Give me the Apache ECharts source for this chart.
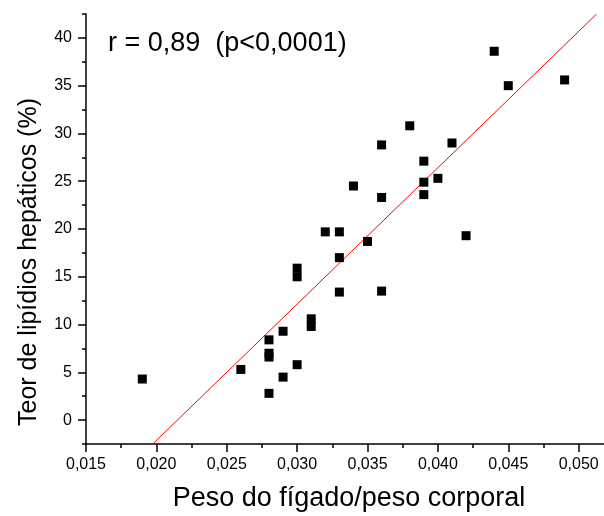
<!DOCTYPE html>
<html>
<head>
<meta charset="utf-8">
<script src="https://cdn.jsdelivr.net/npm/echarts@6/dist/echarts.min.js"></script>
<style>
html,body{margin:0;padding:0;background:#fff;}
#chart{width:604px;height:516px;}
</style>
</head>
<body>
<div id="chart"></div>
<script>
// Data
const liverRatio = [0.019, 0.026, 0.028, 0.028, 0.028, 0.028, 0.029, 0.029, 0.030, 0.030, 0.030,
  0.031, 0.031, 0.032, 0.033, 0.033, 0.033, 0.034, 0.035, 0.036, 0.036, 0.036,
  0.038, 0.039, 0.039, 0.039, 0.040, 0.041, 0.042, 0.044, 0.045, 0.049];
const lipidPct = [4.3, 5.3, 8.4, 7.0, 6.6, 2.8, 9.3, 4.5, 15.9, 15.0, 5.8,
  10.6, 9.8, 19.7, 19.7, 17.0, 13.4, 24.5, 18.7, 28.8, 23.3, 13.5,
  30.8, 27.1, 24.9, 23.6, 25.3, 29.0, 19.3, 38.6, 35.0, 35.6];
// Regression line parameters (y = slope * x + intercept)
const fitSlope = 1427;
const fitIntercept = -30.67;
// Axis ticks
const xTickLabels = [0.015, 0.020, 0.025, 0.030, 0.035, 0.040, 0.045, 0.050];
const xMinorTicks = [0.0175, 0.0225, 0.0275, 0.0325, 0.0375, 0.0425, 0.0475];
const yTickLabels = [0, 5, 10, 15, 20, 25, 30, 35, 40];
const yMinorTicks = [-2.5, 2.5, 7.5, 12.5, 17.5, 22.5, 27.5, 32.5, 37.5, 42.5];
const xMin = 0.015, xMax = 0.0518, yMin = -2.5, yMax = 42.5;
const annotation = 'r = 0,89  (p<0,0001)';
const xTitle = 'Peso do fígado/peso corporal';
const yTitle = 'Teor de lipídios hepáticos (%)';

const scatterData = liverRatio.map((x, i) => [x, lipidPct[i]]);
const lineX0 = (yMin - fitIntercept) / fitSlope;
const lineX1 = (yMax - fitIntercept) / fitSlope;
const lineData = [[lineX0, fitSlope * lineX0 + fitIntercept], [lineX1, fitSlope * lineX1 + fitIntercept]];

const FONT = '"Liberation Sans", Arial, sans-serif';
const chart = echarts.init(document.getElementById('chart'), null, {renderer: 'canvas'});
const axisLineStyle = {color: '#000', width: 1.5};
chart.setOption({
  animation: false,
  backgroundColor: '#fff',
  grid: {left: 86, top: 14, right: 0, bottom: 72, containLabel: false},
  xAxis: [{
    type: 'value', min: xMin, max: xMax,
    axisLine: {show: true, onZero: false, lineStyle: axisLineStyle},
    axisTick: {show: true, inside: false, length: 8, lineStyle: {color: '#000', width: 1.5}, customValues: xTickLabels},
    axisLabel: {show: true, margin: 13, color: '#000', fontSize: 16, fontFamily: FONT,
      customValues: xTickLabels,
      formatter: v => v.toFixed(3).replace('.', ',')},
    splitLine: {show: false}
  }, {
    type: 'value', min: xMin, max: xMax, position: 'bottom',
    axisLine: {show: false, onZero: false},
    axisTick: {show: true, inside: false, length: 4, lineStyle: {color: '#000', width: 1.5}, customValues: xMinorTicks},
    axisLabel: {show: false, customValues: xMinorTicks},
    splitLine: {show: false}
  }],
  yAxis: [{
    type: 'value', min: yMin, max: yMax,
    axisLine: {show: true, onZero: false, lineStyle: axisLineStyle},
    axisTick: {show: true, inside: false, length: 8, lineStyle: {color: '#000', width: 1.5}, customValues: yTickLabels},
    axisLabel: {show: true, margin: 14, color: '#000', fontSize: 16, fontFamily: FONT,
      customValues: yTickLabels, formatter: v => String(v)},
    splitLine: {show: false}
  }, {
    type: 'value', min: yMin, max: yMax, position: 'left',
    axisLine: {show: false, onZero: false},
    axisTick: {show: true, inside: false, length: 4, lineStyle: {color: '#000', width: 1.5}, customValues: yMinorTicks},
    axisLabel: {show: false, customValues: yMinorTicks},
    splitLine: {show: false}
  }],
  series: [{
    type: 'line', xAxisIndex: 0, yAxisIndex: 0,
    data: lineData, showSymbol: false, symbol: 'none', clip: true,
    lineStyle: {color: '#ff0000', width: 1}, z: 2
  }, {
    type: 'scatter', xAxisIndex: 0, yAxisIndex: 0,
    data: scatterData, symbol: 'rect', symbolSize: 9,
    itemStyle: {color: '#000', opacity: 1}, z: 3
  }],
  graphic: [{
    type: 'text', x: 108, y: 44,
    style: {text: annotation, font: '27px ' + FONT, fill: '#000', verticalAlign: 'middle'}
  }, {
    type: 'text', x: 349, y: 499,
    style: {text: xTitle, font: '27px ' + FONT, fill: '#000', align: 'center', verticalAlign: 'middle'}
  }, {
    type: 'text', x: 29, y: 262, rotation: Math.PI / 2,
    style: {text: yTitle, font: '25px ' + FONT, fill: '#000', align: 'center', verticalAlign: 'middle'}
  }]
});
</script>
</body>
</html>
